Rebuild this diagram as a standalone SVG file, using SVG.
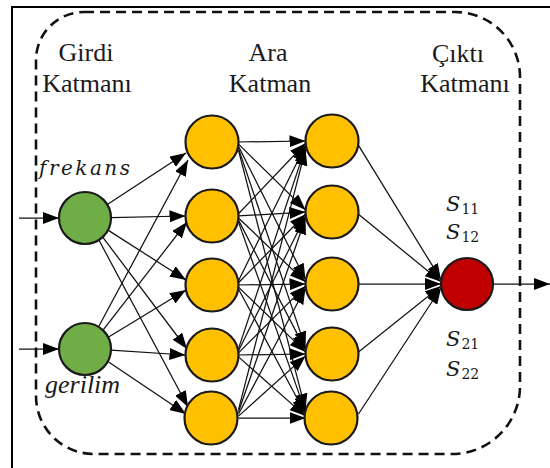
<svg xmlns="http://www.w3.org/2000/svg" width="550" height="468" viewBox="0 0 550 468">
<defs>
<style>
.frame{fill:none;stroke:#000;stroke-width:2}
.dash{fill:none;stroke:#111;stroke-width:2.6;stroke-dasharray:10 6}
.c{stroke:#111;stroke-width:1.25;fill:none;marker-end:url(#ah)}
.n{stroke:#1a1a1a;stroke-width:2.2}
.in{fill:#70AD47}
.hid{fill:#FFC000}
.out{fill:#C00000}
.lbl{font-family:'Liberation Serif',serif;font-size:26px;fill:#1a1a1a;text-anchor:middle}
.var{font-family:'DejaVu Serif',serif;font-style:italic;font-size:20px;fill:#1a1a1a}
.var2{font-family:'Liberation Serif',serif;font-style:italic;font-size:26px;fill:#1a1a1a}
.s{font-family:'DejaVu Serif',serif;font-size:21px;fill:#1a1a1a}
.s .it{font-style:italic}
.s .sub{font-size:14px}
</style>
<marker id="ah" markerUnits="userSpaceOnUse" markerWidth="16" markerHeight="12" refX="16" refY="6" orient="auto">
<path d="M0,0 L16,6 L0,12 Z" fill="#000"/>
</marker>
</defs>
<rect width="550" height="468" fill="#fff"/>
<rect class="frame" x="12" y="7" width="560" height="480"/>
<path class="dash" d="M84,12 H455 A65,65 0 0 1 520,77 V386 A68,68 0 0 1 452,454 H94 A58,58 0 0 1 36,396 V60 A48,48 0 0 1 84,12 Z"/>

<g id="connectors">
<line class="c" x1="19" y1="218" x2="59" y2="218"/>
<line class="c" x1="19" y1="349" x2="59" y2="349"/>
<line class="c" x1="107.3" y1="204.6" x2="186" y2="153"/>
<line class="c" x1="111" y1="217.6" x2="185.5" y2="216"/>
<line class="c" x1="108" y1="230.1" x2="186" y2="280"/>
<line class="c" x1="102.7" y1="237.1" x2="187" y2="349"/>
<line class="c" x1="98.9" y1="240" x2="188" y2="407"/>
<line class="c" x1="98.6" y1="326.8" x2="188" y2="160"/>
<line class="c" x1="103" y1="330.2" x2="187" y2="222"/>
<line class="c" x1="108.2" y1="337.3" x2="186" y2="290"/>
<line class="c" x1="111" y1="350.2" x2="185.5" y2="355"/>
<line class="c" x1="107.9" y1="361.4" x2="186" y2="414"/>

<line class="c" x1="238.5" y1="142" x2="305.5" y2="141"/>
<line class="c" x1="238.5" y1="144.1" x2="305.5" y2="209.9"/>
<line class="c" x1="238.5" y1="146.3" x2="305.5" y2="279.7"/>
<line class="c" x1="238.5" y1="148.4" x2="305.5" y2="347.6"/>
<line class="c" x1="238.5" y1="150.3" x2="305.5" y2="409.7"/>

<line class="c" x1="238.5" y1="213.7" x2="305.5" y2="143.3"/>
<line class="c" x1="238.5" y1="215.9" x2="305.5" y2="212.1"/>
<line class="c" x1="238.5" y1="218" x2="305.5" y2="282"/>
<line class="c" x1="238.5" y1="220.1" x2="305.5" y2="349.9"/>
<line class="c" x1="238.5" y1="222.1" x2="305.5" y2="411.9"/>

<line class="c" x1="238.5" y1="280.7" x2="305.5" y2="145.3"/>
<line class="c" x1="238.5" y1="282.8" x2="305.5" y2="214.2"/>
<line class="c" x1="238.5" y1="285" x2="305.5" y2="284"/>
<line class="c" x1="238.5" y1="287.1" x2="305.5" y2="351.9"/>
<line class="c" x1="238.5" y1="289" x2="305.5" y2="414"/>

<line class="c" x1="238.5" y1="348.6" x2="305.5" y2="147.4"/>
<line class="c" x1="238.5" y1="350.7" x2="305.5" y2="216.3"/>
<line class="c" x1="238.5" y1="352.9" x2="305.5" y2="286.1"/>
<line class="c" x1="238.5" y1="355" x2="305.5" y2="354"/>
<line class="c" x1="238.5" y1="356.9" x2="305.5" y2="416.1"/>

<line class="c" x1="238.5" y1="409.7" x2="305.5" y2="149.3"/>
<line class="c" x1="238.5" y1="411.8" x2="305.5" y2="218.2"/>
<line class="c" x1="238.5" y1="414" x2="305.5" y2="288"/>
<line class="c" x1="238.5" y1="416.1" x2="305.5" y2="355.9"/>
<line class="c" x1="238.5" y1="418" x2="305.5" y2="418"/>

<line class="c" x1="358.5" y1="145.3" x2="441" y2="279.7"/>
<line class="c" x1="358.5" y1="214.2" x2="441" y2="281.8"/>
<line class="c" x1="358.5" y1="284" x2="441" y2="284"/>
<line class="c" x1="358.5" y1="351.9" x2="441" y2="286.1"/>
<line class="c" x1="358.5" y1="414" x2="441" y2="288"/>

<line class="c" x1="493" y1="284" x2="550" y2="284"/>
</g>

<g id="in-frekans"><circle class="n in" cx="85" cy="218" r="26"/><text class="var" x="39" y="175" letter-spacing="2.5">frekans</text></g>
<g id="in-gerilim"><circle class="n in" cx="85" cy="349" r="26"/><text class="var2" x="45" y="393">gerilim</text></g>

<g id="h1-1"><circle class="n hid" cx="212" cy="142" r="26.5"/></g>
<g id="h1-2"><circle class="n hid" cx="212" cy="216" r="26.5"/></g>
<g id="h1-3"><circle class="n hid" cx="212" cy="285" r="26.5"/></g>
<g id="h1-4"><circle class="n hid" cx="212" cy="355" r="26.5"/></g>
<g id="h1-5"><circle class="n hid" cx="211" cy="418" r="26.5"/></g>

<g id="h2-1"><circle class="n hid" cx="332" cy="141" r="26.5"/></g>
<g id="h2-2"><circle class="n hid" cx="332" cy="212" r="26.5"/></g>
<g id="h2-3"><circle class="n hid" cx="332" cy="284" r="26.5"/></g>
<g id="h2-4"><circle class="n hid" cx="332" cy="354" r="26.5"/></g>
<g id="h2-5"><circle class="n hid" cx="331" cy="418" r="26.5"/></g>

<g id="output"><circle class="n out" cx="467" cy="284" r="26"/>
<text class="s" x="446" y="211"><tspan class="it">S</tspan><tspan class="sub" dx="1" dy="3">11</tspan></text>
<text class="s" x="446" y="239"><tspan class="it">S</tspan><tspan class="sub" dx="1" dy="3">12</tspan></text>
<text class="s" x="446" y="346"><tspan class="it">S</tspan><tspan class="sub" dx="1" dy="3">21</tspan></text>
<text class="s" x="446" y="376"><tspan class="it">S</tspan><tspan class="sub" dx="1" dy="3">22</tspan></text>
</g>

<g id="labels">
<text class="lbl" x="86" y="61">Girdi</text>
<text class="lbl" x="87" y="92">Katmanı</text>
<text class="lbl" x="268" y="61">Ara</text>
<text class="lbl" x="270" y="92">Katman</text>
<text class="lbl" x="458" y="62">Çıktı</text>
<text class="lbl" x="465" y="92">Katmanı</text>
</g>
</svg>
